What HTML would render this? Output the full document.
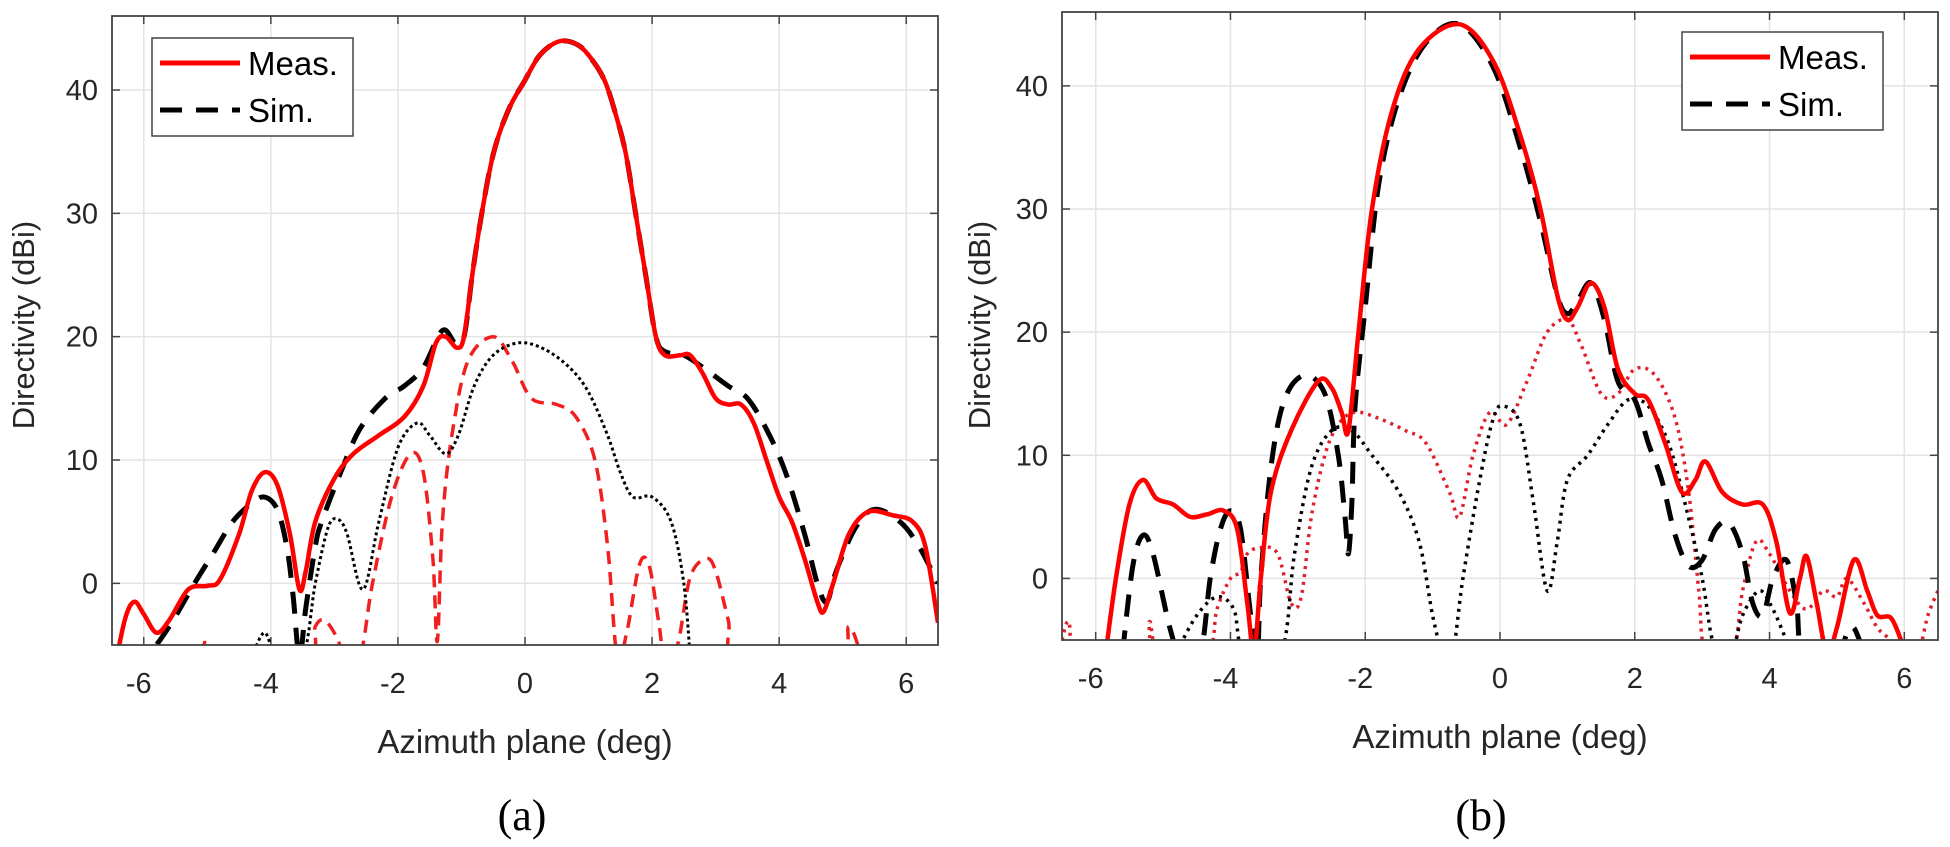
<!DOCTYPE html>
<html><head><meta charset="utf-8"><style>
html,body{margin:0;padding:0;background:#fff;}
svg text{font-family:"Liberation Sans",Arial,sans-serif;fill:#262626;}
</style></head><body>
<svg id="fig" width="1950" height="842" viewBox="0 0 1950 842" xmlns="http://www.w3.org/2000/svg"></svg>
<script>
// ---- Panel (a) data ----
const aMeasX=[-6.5,-6.3,-6.15,-6.0,-5.8,-5.6,-5.3,-5.0,-4.8,-4.5,-4.3,-4.1,-3.9,-3.7,-3.55,-3.45,-3.3,-3.0,-2.7,-2.3,-1.9,-1.6,-1.4,-1.25,-1.07,-0.96,-0.83,-0.68,-0.49,-0.25,0,0.2,0.4,0.6,0.85,1.05,1.25,1.4,1.58,1.74,1.9,2.06,2.2,2.45,2.6,2.8,3.0,3.2,3.4,3.6,3.8,4.0,4.2,4.4,4.6,4.7,4.85,5.1,5.4,5.8,6.1,6.3,6.5];
const aMeasY=[-8,-3,-1.5,-2.5,-4,-3,-0.5,-0.2,0.3,4,7.5,9,8,4,-0.5,1,5,8.5,10.5,12,13.5,16,19.5,20,19.1,20,25,30,35,38.5,40.8,42.6,43.6,44,43.6,42.5,40.8,38.5,35,30,25,20,18.5,18.5,18.5,17,15,14.5,14.5,13,10,7,5,2,-1.5,-2.3,0,4,5.8,5.5,5,3,-3.2];
const aSimX=[-6.5,-6.2,-5.9,-5.6,-5.2,-4.9,-4.6,-4.3,-4.1,-3.9,-3.75,-3.65,-3.55,-3.45,-3.3,-3.2,-2.9,-2.6,-2.2,-1.9,-1.6,-1.3,-1.1,-0.96,-0.83,-0.68,-0.49,-0.25,0,0.2,0.4,0.6,0.85,1.05,1.25,1.4,1.58,1.74,1.9,2.06,2.2,2.5,2.8,3.2,3.5,3.8,4.1,4.4,4.6,4.75,4.9,5.2,5.5,5.9,6.2,6.5];
const aSimY=[-9,-6,-5.5,-3.5,0,2.5,5,6.5,7,6,3,-1,-6,-2,3,5,9,12.5,15,16,17.5,20.5,19.5,20,25,30,35,38.5,40.8,42.6,43.6,44,43.6,42.5,40.8,38.5,35,30,25,20,18.8,18.5,17.5,16,15,12.5,9,4,0,-1.5,1,4.5,6,5,3,0];
const aCrossX=[-5.2,-5.05,-4.9,-3.45,-3.3,-3.15,-2.95,-2.85,-2.6,-2.4,-2.1,-1.8,-1.6,-1.45,-1.38,-1.3,-1.15,-0.9,-0.5,-0.2,0.1,0.5,0.8,1.1,1.3,1.45,1.6,1.8,1.95,2.1,2.2,2.4,2.6,2.85,3.0,3.2,3.35,4.9,5.1,5.3];
const aCrossY=[-6,-4.6,-6,-6,-3.5,-3,-4.5,-6,-6,0,7,10.5,9,2,-4.7,5,12,18,20,18,15,14.5,13.5,10,3,-6,-4,1.5,1.5,-3,-6,-5,0.5,2,1,-3,-6,-6,-3.5,-6];
const aCrossSimX=[-4.3,-4.1,-3.9,-3.5,-3.3,-3.1,-2.95,-2.8,-2.55,-2.3,-2.0,-1.7,-1.5,-1.25,-1.05,-0.8,-0.5,-0.1,0.3,0.7,1.0,1.3,1.5,1.7,2.0,2.3,2.5,2.6];
const aCrossSimY=[-6,-4,-6,-6,0,4.5,5.2,4,-0.5,5,11,13,12,10.5,12,16,18.5,19.5,19,17.5,15.5,12,9,7,7,5,0,-6];
// ---- Panel (b) data ----
const bMeasX=[-5.85,-5.7,-5.5,-5.3,-5.1,-4.85,-4.6,-4.35,-4.1,-3.9,-3.75,-3.65,-3.55,-3.4,-3.1,-2.7,-2.5,-2.35,-2.25,-2.1,-1.9,-1.6,-1.2,-0.6,-0.1,0.3,0.6,0.85,1.0,1.15,1.35,1.55,1.75,2.0,2.2,2.45,2.7,2.9,3.05,3.3,3.6,3.9,4.1,4.3,4.45,4.55,4.7,4.85,5.0,5.25,5.45,5.6,5.8,5.95,6.0];
const bMeasY=[-6,0,6,8,6.5,6,5,5.2,5.5,4,-2,-6,0,7,12,16,15.5,13.5,12,20,30,38,43,45,42,36,30,23,21,22,24,22,17,15,14.5,11,7,8,9.5,7,6,6,3,-2.8,0,1.8,-2,-6,-4,1.5,-1,-3,-3.2,-5,-6];
const bSimX=[-5.6,-5.45,-5.3,-5.15,-4.9,-4.75,-4.45,-4.3,-4.15,-4.0,-3.85,-3.7,-3.6,-3.55,-3.4,-3.2,-2.9,-2.6,-2.4,-2.3,-2.25,-2.2,-2.15,-2.0,-1.8,-1.5,-1.1,-0.6,-0.1,0.3,0.6,0.85,1.0,1.15,1.35,1.55,1.75,2.0,2.2,2.4,2.6,2.8,3.0,3.2,3.4,3.6,3.75,3.9,4.05,4.25,4.4,4.5,5.0,5.15,5.25,5.4];
const bSimY=[-6,1,3.5,2,-4,-6,-6,0,4,5.5,4,-3,-6,0,9,14.5,16.5,15,10,5,2,6,14,22,32,39,43.5,45,41.5,35,29,23,21.5,22.5,24,21,16,14.5,11,8,3.5,1,1.5,4,4.5,2,-2,-3,0,1.5,-2,-6,-6,-4.5,-4,-6];
const bCrossX=[-6.5,-6.4,-6.25,-5.3,-5.2,-5.05,-4.35,-4.2,-4.0,-3.85,-3.75,-3.55,-3.3,-3.1,-2.95,-2.8,-2.6,-2.4,-2.15,-1.8,-1.4,-1.1,-0.75,-0.6,-0.4,-0.15,0.1,0.4,0.7,1.0,1.2,1.5,1.75,2.0,2.3,2.6,2.8,2.95,3.05,3.45,3.6,3.8,4.0,4.3,4.55,4.8,5.0,5.15,5.4,5.6,5.8,5.95,6.2,6.35,6.5];
const bCrossY=[-5,-3.5,-6,-6,-3.5,-6,-6,-2.5,0,0.5,2,2.5,2,-2,-1.5,5,10,12.5,13.5,13,12,11,7,5,10,13.5,12.5,16,20,21,19,15,15,17,16.5,13,7,-1,-6,-6,-1,3,2,-1,-2.5,-1,-1.5,0,-2,-4,-5,-6,-6,-3,-1];
const bCrossSimX=[-4.8,-4.5,-4.2,-3.95,-3.8,-3.25,-3.05,-2.8,-2.5,-2.2,-1.9,-1.5,-1.2,-1.0,-0.85,-0.7,-0.55,-0.3,-0.1,0.05,0.3,0.5,0.7,0.85,1.0,1.3,1.6,1.9,2.2,2.5,2.75,3.0,3.15,3.3,3.45,3.6,3.85,4.05,4.25,4.35];
const bCrossSimY=[-6,-3,-1.5,-2.5,-6,-6,2,9,12,12,10,7,3,-3,-6,-6,0,8,13,14,12.5,6,-1,3,8,10,12.5,14.5,14,11,6,0,-5,-6,-6,-3,-1,-2.5,-5,-6];
const xTicks=[-6,-4,-2,0,2,4,6];
const yTicks=[0,10,20,30,40];

const NS="http://www.w3.org/2000/svg";
const fig=document.getElementById('fig');
function el(tag,attrs,parent){const e=document.createElementNS(NS,tag);for(const k in attrs)e.setAttribute(k,attrs[k]);(parent||fig).appendChild(e);return e;}

function smoothPath(xs,ys,sx,sy){
  const p=xs.map((x,i)=>[sx(x),sy(ys[i])]);
  let d=`M${p[0][0].toFixed(1)},${p[0][1].toFixed(1)}`;
  for(let i=0;i<p.length-1;i++){
    const p0=p[Math.max(0,i-1)],p1=p[i],p2=p[i+1],p3=p[Math.min(p.length-1,i+2)];
    const c1=[p1[0]+(p2[0]-p0[0])/6,p1[1]+(p2[1]-p0[1])/6];
    const c2=[p2[0]-(p3[0]-p1[0])/6,p2[1]-(p3[1]-p1[1])/6];
    d+=`C${c1[0].toFixed(1)},${c1[1].toFixed(1)} ${c2[0].toFixed(1)},${c2[1].toFixed(1)} ${p2[0].toFixed(1)},${p2[1].toFixed(1)}`;
  }
  return d;
}

function panel(cfg){
  const g=el('g',{});
  
  
  const {L,R,T,B}=cfg;
  const sx=x=>L+(x+6.5)/13*(R-L);
  const sy=y=>B-(y+5)/51*(B-T);
  const clipId='clip-'+cfg.id;
  const cp=el('clipPath',{id:clipId},g);el('rect',{x:L,y:T,width:R-L,height:B-T},cp);
  xTicks.forEach(t=>{
    const gl=el('line',{x1:sx(t),x2:sx(t),y1:T,y2:B,stroke:'#e3e3e3','stroke-width':1.5},g);
    
    el('line',{x1:sx(t),x2:sx(t),y1:B,y2:B-8,stroke:'#444','stroke-width':1.5},g);
    el('line',{x1:sx(t),x2:sx(t),y1:T,y2:T+8,stroke:'#444','stroke-width':1.5},g);
    const tl=el('text',{x:sx(t)-(t<0?5:0),y:B+48,'text-anchor':'middle','font-size':29},g);
    tl.textContent=t;
    
  });
  yTicks.forEach(t=>{
    const gl=el('line',{x1:L,x2:R,y1:sy(t),y2:sy(t),stroke:'#e3e3e3','stroke-width':1.5},g);
    
    el('line',{x1:L,x2:L+8,y1:sy(t),y2:sy(t),stroke:'#444','stroke-width':1.5},g);
    el('line',{x1:R,x2:R-8,y1:sy(t),y2:sy(t),stroke:'#444','stroke-width':1.5},g);
    const tl=el('text',{x:L-14,y:sy(t)+10,'text-anchor':'end','font-size':29},g);
    tl.textContent=t;
    
  });
  const plot=el('g',{'clip-path':`url(#${clipId})`},g);
  cfg.series.forEach(s=>{
    const pth=el('path',{d:smoothPath(s.x,s.y,sx,sy),fill:'none',stroke:s.color,'stroke-width':s.w,'stroke-dasharray':s.dash||'none','stroke-linejoin':'round'},plot);
    
    
  });
  const box=el('rect',{x:L,y:T,width:R-L,height:B-T,fill:'none',stroke:'#444','stroke-width':1.8},g);
  
  const yl=el('text',{x:0,y:0,transform:`translate(${cfg.ylx},${cfg.yly}) rotate(-90)`,'text-anchor':'middle','font-size':31},g);
  yl.textContent='Directivity (dBi)';
  
  const xl=el('text',{x:(L+R)/2,y:B+108,'text-anchor':'middle','font-size':33},g);
  xl.textContent='Azimuth plane (deg)';
  
  const cap=el('text',{x:cfg.capX,y:830,'text-anchor':'middle','font-size':44,style:'font-family:"Liberation Serif",serif;fill:#000'},g);
  cap.textContent=cfg.cap;
  
  const lg=el('g',{},g);
  
  const lx=cfg.lx,ly=cfg.ly;
  el('rect',{x:lx,y:ly,width:201,height:98,fill:'#fff',stroke:'#444','stroke-width':1.5},lg);
  const e1=el('line',{x1:lx+8,x2:lx+88,y1:ly+25,y2:ly+25,stroke:'#f00','stroke-width':5},lg);
  
  const t1=el('text',{x:lx+96,y:ly+37,'font-size':33,style:'fill:#000'},lg);t1.textContent='Meas.';
  
  const e2=el('line',{x1:lx+8,x2:lx+88,y1:ly+72,y2:ly+72,stroke:'#000','stroke-width':5,'stroke-dasharray':'22 14'},lg);
  
  const t2=el('text',{x:lx+96,y:ly+84,'font-size':33,style:'fill:#000'},lg);t2.textContent='Sim.';
  
}

panel({id:'a',name:'panel-a',L:112,R:938,T:16,B:645,ylx:34,yly:325,capX:522,cap:'(a)',lx:152,ly:38,
  series:[
    {name:'cross-pol-meas-a',x:aCrossX,y:aCrossY,color:'#f02020',w:3.5,dash:'13 8'},
    {name:'cross-pol-sim-a',x:aCrossSimX,y:aCrossSimY,color:'#000',w:3,dash:'3 3'},
    {name:'sim-line-a',x:aSimX,y:aSimY,color:'#000',w:5,dash:'22 14'},
    {name:'meas-line-a',x:aMeasX,y:aMeasY,color:'#f00',w:4.5}
  ]});
panel({id:'b',name:'panel-b',L:1062,R:1938,T:12,B:640,ylx:990,yly:325,capX:1481,cap:'(b)',lx:1682,ly:32,
  series:[
    {name:'cross-pol-meas-b',x:bCrossX,y:bCrossY,color:'#e0202a',w:3.5,dash:'3 5'},
    {name:'cross-pol-sim-b',x:bCrossSimX,y:bCrossSimY,color:'#000',w:3.5,dash:'3 5'},
    {name:'sim-line-b',x:bSimX,y:bSimY,color:'#000',w:5,dash:'22 14'},
    {name:'meas-line-b',x:bMeasX,y:bMeasY,color:'#f00',w:4.5}
  ]});
</script>
</body></html>
